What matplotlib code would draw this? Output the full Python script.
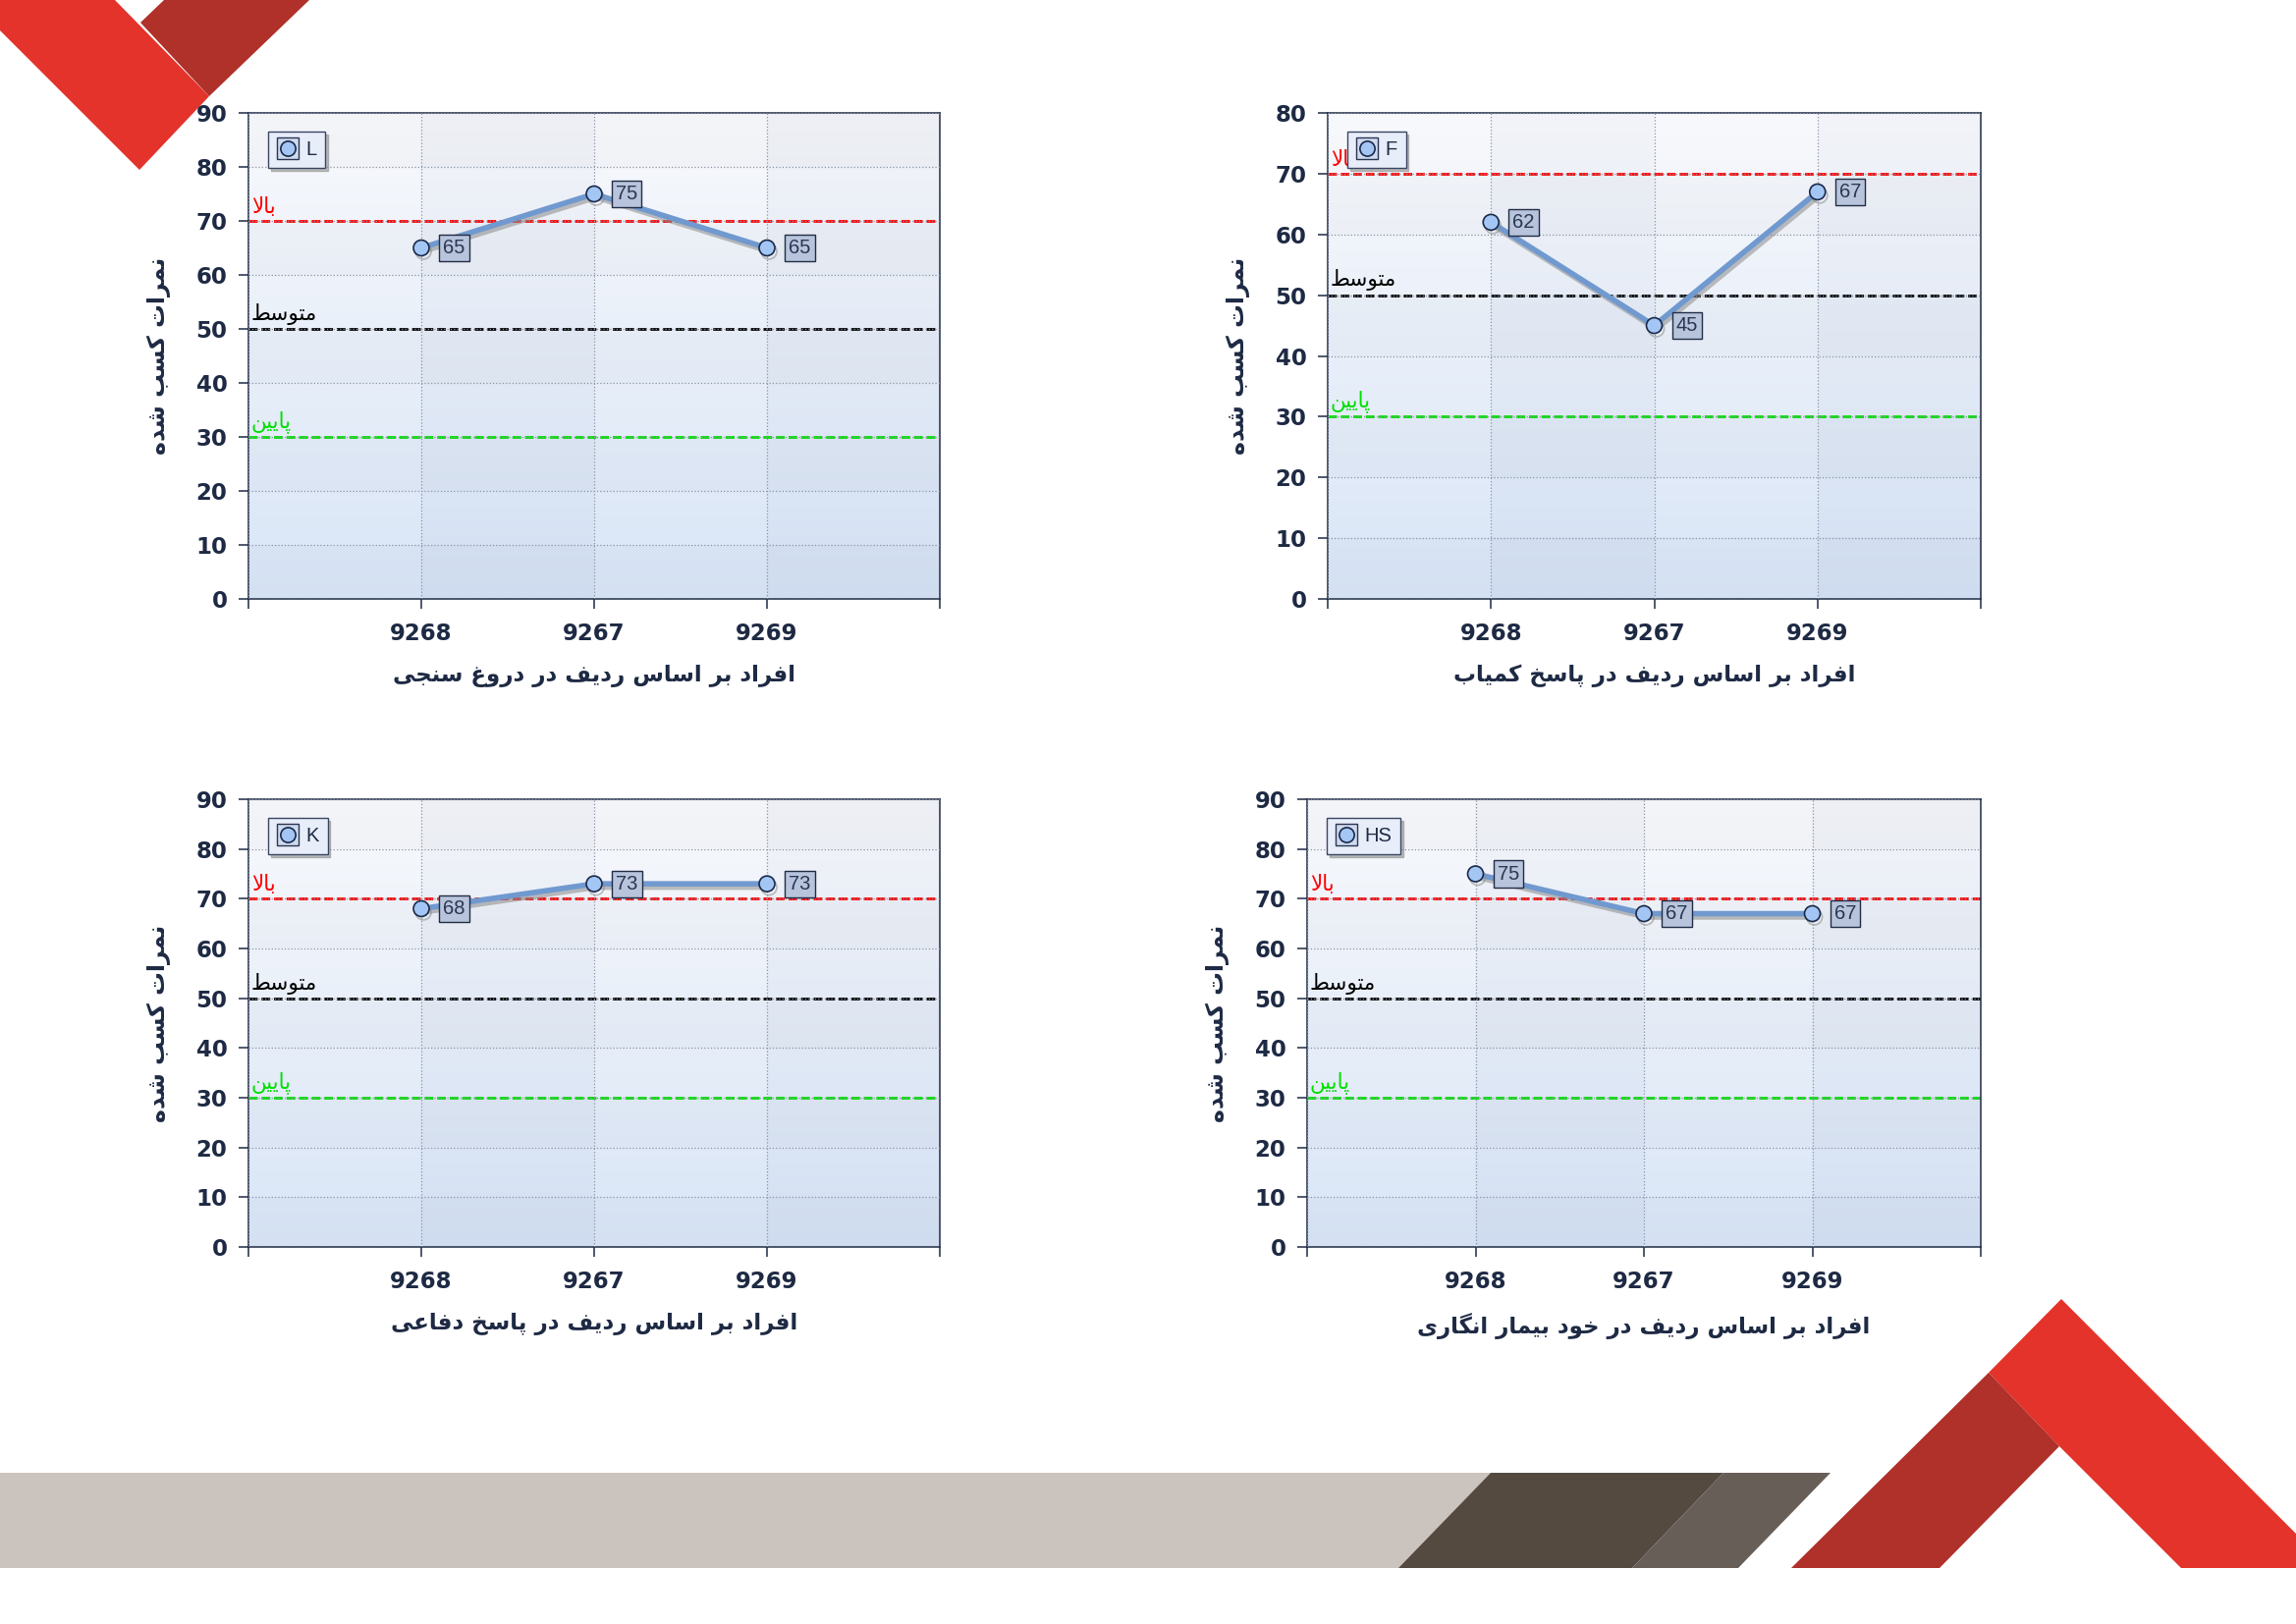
import numpy as np
import matplotlib
matplotlib.use("Agg")
import matplotlib.pyplot as plt
import matplotlib.patheffects as pe
from matplotlib.lines import Line2D
from matplotlib.patches import Polygon

# data
categories = ['9268', '9267', '9269']
scores_L = [65, 75, 65]
scores_F = [62, 45, 67]
scores_K = [68, 73, 73]
scores_HS = [75, 67, 67]
series_names = ['L', 'F', 'K', 'HS']
x_titles = ['افراد بر اساس ردیف در دروغ سنجی',
            'افراد بر اساس ردیف در پاسخ کمیاب',
            'افراد بر اساس ردیف در پاسخ دفاعی',
            'افراد بر اساس ردیف در خود بیمار انگاری']
y_title = 'نمرات کسب شده'
y_max = [90, 80, 90, 90]
levels = [70, 50, 30]
level_names = ['بالا', 'متوسط', 'پایین']

# persian shaping (matplotlib has no RTL / joining)
FORMS = {
    'ا': ('\uFE8D', '\uFE8E'), 'د': ('\uFEA9', '\uFEAA'), 'ر': ('\uFEAD', '\uFEAE'),
    'و': ('\uFEED', '\uFEEE'),
    'ب': ('\uFE8F', '\uFE90', '\uFE91', '\uFE92'), 'پ': ('\uFB56', '\uFB57', '\uFB58', '\uFB59'),
    'ت': ('\uFE95', '\uFE96', '\uFE97', '\uFE98'), 'ج': ('\uFE9D', '\uFE9E', '\uFE9F', '\uFEA0'),
    'خ': ('\uFEA5', '\uFEA6', '\uFEA7', '\uFEA8'), 'س': ('\uFEB1', '\uFEB2', '\uFEB3', '\uFEB4'),
    'ش': ('\uFEB5', '\uFEB6', '\uFEB7', '\uFEB8'), 'ط': ('\uFEC1', '\uFEC2', '\uFEC3', '\uFEC4'),
    'ع': ('\uFEC9', '\uFECA', '\uFECB', '\uFECC'), 'غ': ('\uFECD', '\uFECE', '\uFECF', '\uFED0'),
    'ف': ('\uFED1', '\uFED2', '\uFED3', '\uFED4'), 'ک': ('\uFB8E', '\uFB8F', '\uFB90', '\uFB91'),
    'گ': ('\uFB92', '\uFB93', '\uFB94', '\uFB95'), 'ل': ('\uFEDD', '\uFEDE', '\uFEDF', '\uFEE0'),
    'م': ('\uFEE1', '\uFEE2', '\uFEE3', '\uFEE4'), 'ن': ('\uFEE5', '\uFEE6', '\uFEE7', '\uFEE8'),
    'ه': ('\uFEE9', '\uFEEA', '\uFEEB', '\uFEEC'), 'ی': ('\uFBFC', '\uFBFD', '\uFBFE', '\uFBFF'),
}


def fa(s):
    out = []
    prev = False
    i = 0
    while i < len(s):
        c = s[i]
        if c == 'ل' and i + 1 < len(s) and s[i + 1] == 'ا':
            out.append('\uFEFC' if prev else '\uFEFB')
            prev = False
            i += 2
            continue
        if c not in FORMS:
            out.append(c)
            prev = False
            i += 1
            continue
        f = FORMS[c]
        nxt = s[i + 1] if i + 1 < len(s) else None
        can_next = len(f) == 4 and nxt in FORMS
        if len(f) == 2:
            out.append(f[1] if prev else f[0])
            prev = False
        else:
            if prev and can_next:
                out.append(f[3])
            elif prev:
                out.append(f[1])
            elif can_next:
                out.append(f[2])
            else:
                out.append(f[0])
            prev = can_next
        i += 1
    return ''.join(reversed(out))


W, H = 2338, 1654
fig = plt.figure(figsize=(W / 100, H / 100), dpi=100, facecolor='white')

# background decoration (pixel coords)
deco = fig.add_axes([0, 0, 1, 1], zorder=-1)
deco.set_xlim(0, W)
deco.set_ylim(H, 0)
deco.axis('off')
shapes = [
    ([(0, 0), (117, 0), (213, 98), (142, 173), (0, 31)], '#E3332A'),
    ([(143, 23), (167, 0), (315, 0), (213, 98)], '#B0302A'),
    ([(2099, 1323), (2338, 1562), (2338, 1597), (2221, 1597), (2097, 1473), (2025, 1398)], '#E3332A'),
    ([(2025, 1398), (2097, 1473), (1975, 1597), (1824, 1597)], '#B0302A'),
    ([(0, 1500), (1518, 1500), (1424, 1597), (0, 1597)], '#CBC3BD'),
    ([(1518, 1500), (1755, 1500), (1662, 1597), (1424, 1597)], '#544A40'),
    ([(1755, 1500), (1864, 1500), (1770, 1597), (1662, 1597)], '#675E57'),
]
for pts, col in shapes:
    deco.add_patch(Polygon(pts, closed=True, fc=col, ec='none'))

navy = '#1E2A44'
positions = [
    [253 / W, 1 - 610 / H, 704 / W, 495 / H],
    [1352 / W, 1 - 610 / H, 665 / W, 495 / H],
    [253 / W, 1 - 1270 / H, 704 / W, 456 / H],
    [1331 / W, 1 - 1270 / H, 686 / W, 456 / H],
]
all_scores = [scores_L, scores_F, scores_K, scores_HS]
level_cols = ['#FF0000', '#000000', '#00E000']


def background(ax, ymax):
    ny, nx = 450, 400
    yy = np.linspace(ymax, 0, ny)
    xx = np.linspace(0, 4, nx)
    t = (yy / ymax)[:, None, None]
    top = np.array([0.972, 0.976, 0.988])
    bot = np.array([0.850, 0.900, 0.968])
    img = bot + (top - bot) * t
    img = np.repeat(img, nx, axis=1)
    row_dark = ((yy // 10) % 2 == 0)[:, None]
    col_dark = (np.floor(xx) % 2 == 1)[None, :]
    img = img - 0.016 * row_dark[..., None]
    img = img - np.array([0.022, 0.020, 0.014]) * col_dark[..., None]
    ax.imshow(np.clip(img, 0, 1), extent=[0, 4, 0, ymax], aspect='auto', zorder=0,
              interpolation='bilinear')


for k in range(4):
    ax = fig.add_axes(positions[k])
    ymax = y_max[k]
    background(ax, ymax)
    x = np.arange(1, len(categories) + 1)
    vals = all_scores[k]

    for lv, nm, col in zip(levels, level_names, level_cols):
        ax.axhline(lv, color=col, lw=2.0, ls=(0, (3.2, 1.4)), zorder=2)
        ax.annotate(fa(nm), (0, lv), xytext=(2, 3), textcoords='offset points',
                    ha='left', va='bottom', color=col, fontsize=15.5,
                    family='DejaVu Sans', zorder=3)

    ax.plot(x, vals, color='#7099CF', lw=4, marker='o', ms=11.5,
            mfc='#A3C6F5', mec='#1B2A4A', mew=1.2, zorder=4,
            path_effects=[pe.SimpleLineShadow(offset=(1.5, -2.5), shadow_color='#8A8A8A', alpha=0.55),
                          pe.Normal()])
    for xi, v in zip(x, vals):
        ax.annotate(str(v), (xi, v), xytext=(24, 0), textcoords='offset points',
                    ha='center', va='center', fontsize=14.5, color='#2B3650',
                    family='Liberation Sans', zorder=5,
                    bbox=dict(boxstyle='square,pad=0.2', fc='#B7C4DC', ec='#222C44', lw=1))

    sq = Line2D([], [], ls='none', marker='s', ms=16, mfc='#CFDAEF', mec='#2A3550', mew=1)
    ci = Line2D([], [], ls='none', marker='o', ms=11, mfc='#A3C6F5', mec='#1B2A4A', mew=1.2)
    leg = ax.legend([(sq, ci)], [series_names[k]], loc='upper left',
                    bbox_to_anchor=(20 / (positions[k][2] * W), 1 - 19 / (positions[k][3] * H)),
                    borderaxespad=0, fancybox=False, framealpha=1,
                    edgecolor='#3A4560', facecolor='#E7EDF9', handlelength=1.1,
                    handletextpad=0.35, borderpad=0.45,
                    prop={'family': 'Liberation Sans', 'size': 14.5},
                    shadow={'color': '#7F7F7F', 'alpha': 0.5, 'ox': 2, 'oy': -2})
    for t in leg.get_texts():
        t.set_color('#1E2A44')

    ax.set_xlim(0, 4)
    ax.set_ylim(0, ymax)
    ax.set_xticks([0, 1, 2, 3, 4])
    ax.set_xticklabels([''] + categories + [''])
    ax.set_yticks(np.arange(0, ymax + 1, 10))
    ax.grid(True, ls=':', color='#8A93A5', lw=0.9, zorder=1)
    ax.set_axisbelow(False)
    for sp in ax.spines.values():
        sp.set_color(navy)
        sp.set_linewidth(1.1)
    ax.tick_params(direction='out', length=7.5, width=1.1, color=navy,
                   labelsize=16.5, labelcolor=navy, pad=8)
    ax.tick_params(axis='x', pad=10)
    for lab in ax.get_xticklabels() + ax.get_yticklabels():
        lab.set_fontweight('bold')
        lab.set_family('DejaVu Sans')
    ax.set_xlabel(fa(x_titles[k]), fontsize=16.5, fontweight='bold', color=navy,
                  family='DejaVu Sans', labelpad=14)
    ax.set_ylabel(fa(y_title), fontsize=17, fontweight='bold', color=navy,
                  family='DejaVu Sans', labelpad=18)

fig.savefig('out.png', dpi=100, facecolor='white')
